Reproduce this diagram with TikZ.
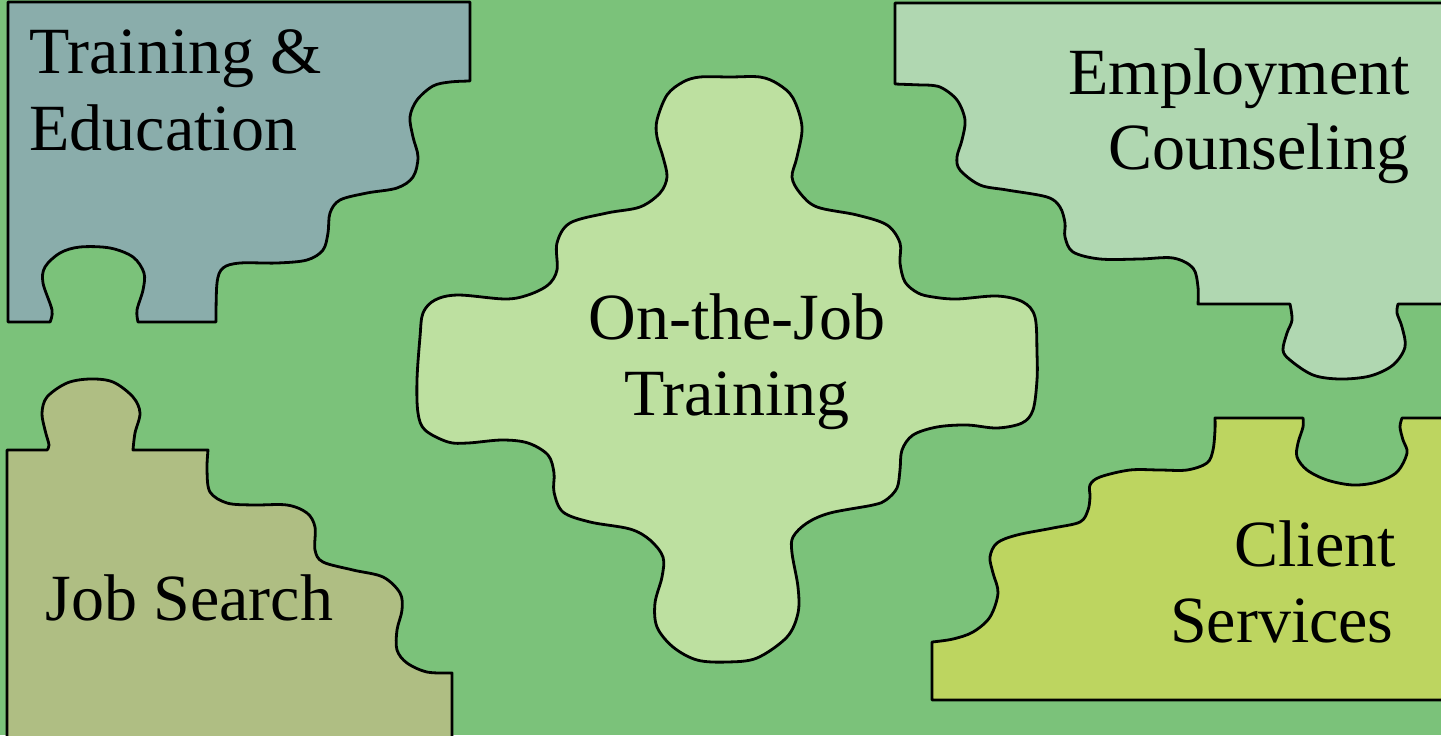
\documentclass[tikz,border=0pt]{standalone}
\usepackage{fontspec}
\setmainfont{Liberation Serif}
\usepackage{xcolor}
\usepackage{tikz}
\definecolor{bgGreen}{HTML}{7BC27A}
\definecolor{eduColor}{HTML}{8AADAB}
\definecolor{counselColor}{HTML}{B0D7B1}
\definecolor{ojtColor}{HTML}{BDE0A0}
\definecolor{searchColor}{HTML}{AFBE83}
\definecolor{clientColor}{HTML}{BDD560}

\begin{document}
\begin{tikzpicture}[x=0.5pt, y=-0.5pt,
  piece/.style={draw=black, line width=1.4pt, line join=round},
  wavy/.style={smooth, tension=0.55},
  label/.style={inner sep=0pt, font=\fontsize{33}{39}\selectfont}]
  \clip (0,0) rectangle (1441,735);
  \fill[bgGreen] (0,0) rectangle (1441,735);

  % Training & Education (top left)
  \draw[piece, fill=eduColor] (8,2) -- (470,2) -- (470,81)
    -- plot[wavy] coordinates {(470,81) (450,82) (433,86) (417,100) (410,117) (413,137) (418,157) (413,177) (397,188) (367,193) (340,200) (330,213) (328,233) (323,250) (307,260) (277,263) (240,263) (223,268) (217,283) (216,322)}
    -- (138,322)
    -- plot[wavy] coordinates {(138,322) (137,310) (143,290) (144,273) (133,257) (110,248) (80,247) (60,253) (45,267) (43,283) (52,310) (50,322)}
    -- (8,322) -- cycle;

  % Employment Counseling (top right)
  \draw[piece, fill=counselColor] (895,3) -- (1450,3) -- (1450,304) -- (1398,304)
    -- plot[wavy] coordinates {(1398,304) (1397,313) (1402,327) (1405,347) (1393,365) (1370,376) (1340,379) (1313,375) (1290,360) (1283,350) (1287,333) (1292,320) (1290,304)}
    -- (1198,304)
    -- plot[wavy] coordinates {(1198,304) (1198,287) (1193,268) (1173,258) (1140,259) (1100,259) (1073,252) (1065,237) (1065,223) (1060,207) (1047,197) (1007,190) (980,185) (960,170) (957,157) (962,140) (965,120) (957,100) (940,87) (922,85)}
    -- (895,84) -- cycle;

  % Job Search (bottom left)
  \draw[piece, fill=searchColor] (7,745) -- (7,450) -- (47,450)
    -- plot[wavy] coordinates {(47,450) (49,445) (45,430) (42,413) (47,397) (67,383) (90,379) (113,382) (133,397) (140,413) (135,433) (133,450)}
    -- (208,450)
    -- plot[wavy] coordinates {(208,450) (207,470) (210,492) (227,503) (253,505) (287,505) (307,513) (315,527) (315,550) (323,562) (353,570) (383,577) (400,593) (402,610) (397,630) (397,650) (407,663) (427,672) (452,673)}
    -- (452,745) -- cycle;

  % Client Services (bottom right)
  \draw[piece, fill=clientColor] (932,700) -- (932,642)
    -- plot[wavy] coordinates {(932,642) (953,639) (973,632) (990,617) (998,593) (993,573) (990,557) (997,543) (1017,535) (1053,528) (1080,522) (1088,510) (1090,497) (1090,485) (1100,477) (1130,470) (1160,470) (1187,470) (1207,463) (1213,450) (1215,430) (1215,418)}
    -- (1303,418)
    -- plot[wavy] coordinates {(1303,418) (1303,427) (1298,443) (1297,457) (1307,470) (1327,480) (1353,485) (1377,482) (1397,472) (1407,453) (1403,440) (1400,427) (1402,418)}
    -- (1450,418) -- (1450,700) -- cycle;

  % On-the-Job Training (centre cross)
  \draw[piece, fill=ojtColor] plot[smooth cycle, tension=0.55] coordinates {
    (730,77) (760,77) (778,84) (793,98) (802,127) (797,157) (792,177) (800,193) (817,207) (857,215) (887,225) (900,243) (900,263) (905,282) (918,293) (933,297) (957,299) (997,296) (1023,302) (1035,317) (1037,353) (1037,380) (1033,410) (1022,423) (997,428) (967,425) (937,427) (913,435) (902,450) (900,470) (897,488) (886,500) (873,505) (830,513) (807,523) (793,537) (792,553) (798,587) (798,613) (787,637) (757,658) (727,662) (697,660) (673,647) (657,627) (655,603) (662,577) (663,557) (650,540) (630,529) (590,522) (563,512) (554,492) (554,473) (548,455) (528,443) (502,440) (468,443) (448,442) (425,430) (418,413) (417,380) (420,337) (423,313) (435,300) (458,295) (505,299) (528,295) (548,285) (557,270) (557,243) (570,223) (607,213) (640,207) (660,193) (667,177) (663,157) (657,137) (657,120) (667,95) (683,82) (700,77)};

  % labels
  \node[label, anchor=base west] (edu1) at (29,73) {Training \&};
  \node[label, anchor=base west] (edu2) at (29,150) {Education};
  \node[label, anchor=base east] (counsel1) at (1410,94) {Employment};
  \node[label, anchor=base east] (counsel2) at (1410,169) {Counseling};
  \node[label, anchor=base] (ojt1) at (737,339) {On-the-Job};
  \node[label, anchor=base] (ojt2) at (737,415) {Training};
  \node[label, anchor=base west] (search) at (45,620) {Job Search};
  \node[label, anchor=base east] (client1) at (1396,566) {Client};
  \node[label, anchor=base east] (client2) at (1394,642) {Services};
\end{tikzpicture}
\end{document}
